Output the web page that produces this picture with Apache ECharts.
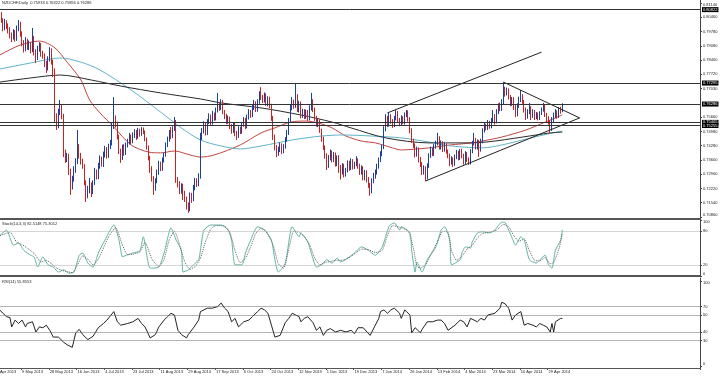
<!DOCTYPE html>
<html>
<head>
<meta charset="utf-8">
<script src="https://cdn.jsdelivr.net/npm/echarts@6/dist/echarts.min.js"></script>
<style>
html,body{margin:0;padding:0;background:#fff}
#chartmain{width:720px;height:376px}
</style>
</head>
<body>
<div id="chartmain"></div>
<script>
var headerText = 'NZDCHF,Daily  0.75933 0.76322 0.75894 0.76286';
var stochText = 'Stoch(14,3,3) 82.5148 75.3012';
var rsiText = 'RSI(14) 55.8553';

// one label every 16 daily bars (Sun-Fri feed)
var dateLabels = ['21 Apr 2013','9 May 2013','28 May 2013','16 Jun 2013','4 Jul 2013','23 Jul 2013',
  '11 Aug 2013','29 Aug 2013','17 Sep 2013','6 Oct 2013','24 Oct 2013','12 Nov 2013','1 Dec 2013',
  '19 Dec 2013','7 Jan 2014','26 Jan 2014','13 Feb 2014','4 Mar 2014','23 Mar 2014','10 Apr 2014','29 Apr 2014'];
var barCount = 408;

var firstOpen = 0.8010;
var closes = [
 0.8025,0.8040,0.8010,0.8055,0.8030,0.7995,0.8020,0.8005,0.7985,0.7960,
 0.7945,0.7975,0.7940,0.7990,0.8015,0.7965,0.7920,0.7895,0.7930,0.7905,
 0.7915,0.7890,0.7945,0.7880,0.7850,0.7895,0.7910,0.7870,0.7860,0.7820,
 0.7800,0.7845,0.7885,0.7830,0.7790,0.7560,0.7525,0.7590,0.7610,0.7570,
 0.7395,0.7360,0.7380,0.7300,0.7230,0.7265,0.7310,0.7350,0.7420,0.7380,
 0.7350,0.7330,0.7250,0.7190,0.7215,0.7240,0.7205,0.7250,0.7300,0.7280,
 0.7330,0.7365,0.7340,0.7385,0.7410,0.7380,0.7425,0.7440,0.7520,0.7560,
 0.7530,0.7470,0.7400,0.7370,0.7420,0.7395,0.7430,0.7445,0.7470,0.7450,
 0.7480,0.7495,0.7470,0.7500,0.7485,0.7510,0.7495,0.7460,0.7420,0.7370,
 0.7320,0.7270,0.7225,0.7260,0.7300,0.7340,0.7320,0.7360,0.7385,0.7430,
 0.7460,0.7490,0.7475,0.7510,0.7530,0.7270,0.7245,0.7210,0.7235,0.7200,
 0.7170,0.7140,0.7125,0.7190,0.7170,0.7225,0.7260,0.7245,0.7280,0.7470,
 0.7500,0.7530,0.7490,0.7545,0.7570,0.7540,0.7580,0.7560,0.7600,0.7625,
 0.7610,0.7640,0.7590,0.7570,0.7545,0.7560,0.7520,0.7500,0.7530,0.7490,
 0.7475,0.7510,0.7495,0.7530,0.7555,0.7520,0.7565,0.7590,0.7575,0.7610,
 0.7630,0.7600,0.7640,0.7675,0.7660,0.7645,0.7670,0.7630,0.7655,0.7620,
 0.7560,0.7470,0.7420,0.7390,0.7410,0.7430,0.7400,0.7425,0.7460,0.7490,
 0.7550,0.7610,0.7640,0.7620,0.7665,0.7600,0.7630,0.7575,0.7595,0.7570,
 0.7590,0.7560,0.7610,0.7645,0.7600,0.7560,0.7530,0.7545,0.7500,0.7460,
 0.7420,0.7380,0.7335,0.7370,0.7395,0.7360,0.7385,0.7340,0.7370,0.7320,
 0.7300,0.7330,0.7290,0.7310,0.7345,0.7320,0.7355,0.7325,0.7340,0.7360,
 0.7330,0.7300,0.7320,0.7275,0.7300,0.7265,0.7240,0.7210,0.7260,0.7285,
 0.7300,0.7330,0.7360,0.7390,0.7420,0.7510,0.7560,0.7530,0.7570,0.7545,
 0.7525,0.7560,0.7585,0.7550,0.7535,0.7560,0.7540,0.7575,0.7590,0.7555,
 0.7500,0.7450,0.7430,0.7385,0.7410,0.7360,0.7340,0.7300,0.7320,0.7275,
 0.7330,0.7380,0.7410,0.7390,0.7425,0.7440,0.7465,0.7420,0.7440,0.7410,
 0.7430,0.7400,0.7380,0.7350,0.7365,0.7340,0.7375,0.7395,0.7370,0.7400,
 0.7380,0.7350,0.7390,0.7360,0.7345,0.7400,0.7440,0.7455,0.7420,0.7445,
 0.7410,0.7450,0.7500,0.7525,0.7510,0.7540,0.7520,0.7550,0.7570,0.7545,
 0.7590,0.7620,0.7605,0.7640,0.7700,0.7680,0.7695,0.7660,0.7630,0.7650,
 0.7610,0.7580,0.7620,0.7650,0.7665,0.7640,0.7600,0.7570,0.7590,0.7610,
 0.7575,0.7595,0.7565,0.7580,0.7560,0.7585,0.7600,0.7615,0.7575,0.7560,
 0.7545,0.7515,0.7555,0.7575,0.7590,0.7570,0.7600,0.75933,0.76286
];
var highs = [
 0.8045,0.8062,0.8052,0.8078,0.8070,0.8041,0.8038,0.8031,0.8016,0.7998,
 0.7972,0.7988,0.7984,0.8006,0.8032,0.8024,0.7978,0.7936,0.7950,0.7942,
 0.7934,0.7926,0.7994,0.7956,0.7892,0.7908,0.7926,0.7922,0.7884,0.7872,
 0.7836,0.7858,0.7902,0.7896,0.7842,0.7800,0.7584,0.7606,0.7648,0.7626,
 0.7582,0.7410,0.7394,0.7390,0.7318,0.7284,0.7330,0.7368,0.7504,0.7436,
 0.7394,0.7366,0.7340,0.7262,0.7236,0.7274,0.7252,0.7262,0.7322,0.7314,
 0.7346,0.7382,0.7376,0.7400,0.7428,0.7422,0.7438,0.7456,0.7538,0.7662,
 0.7574,0.7544,0.7482,0.7414,0.7434,0.7436,0.7444,0.7462,0.7490,0.7482,
 0.7492,0.7508,0.7504,0.7514,0.7510,0.7518,0.7516,0.7502,0.7468,0.7430,
 0.7380,0.7330,0.7282,0.7272,0.7314,0.7356,0.7352,0.7372,0.7394,0.7444,
 0.7472,0.7504,0.7518,0.7522,0.7566,0.7552,0.7278,0.7258,0.7248,0.7246,
 0.7212,0.7184,0.7156,0.7204,0.7202,0.7240,0.7274,0.7272,0.7296,0.7490,
 0.7514,0.7546,0.7538,0.7556,0.7584,0.7578,0.7596,0.7588,0.7612,0.7682,
 0.7638,0.7652,0.7648,0.7600,0.7582,0.7574,0.7568,0.7532,0.7542,0.7538,
 0.7500,0.7522,0.7520,0.7542,0.7566,0.7562,0.7578,0.7604,0.7600,0.7624,
 0.7648,0.7642,0.7652,0.7690,0.7710,0.7672,0.7684,0.7680,0.7666,0.7664,
 0.7630,0.7572,0.7482,0.7432,0.7424,0.7444,0.7440,0.7436,0.7470,0.7504,
 0.7562,0.7624,0.7662,0.7650,0.7730,0.7676,0.7644,0.7640,0.7606,0.7604,
 0.7602,0.7600,0.7622,0.7682,0.7652,0.7612,0.7572,0.7558,0.7554,0.7510,
 0.7472,0.7430,0.7392,0.7384,0.7410,0.7406,0.7398,0.7396,0.7382,0.7384,
 0.7336,0.7344,0.7342,0.7322,0.7358,0.7356,0.7368,0.7364,0.7352,0.7378,
 0.7368,0.7342,0.7334,0.7330,0.7312,0.7310,0.7278,0.7250,0.7272,0.7298,
 0.7314,0.7342,0.7372,0.7402,0.7432,0.7522,0.7580,0.7572,0.7586,0.7580,
 0.7556,0.7572,0.7600,0.7596,0.7562,0.7574,0.7570,0.7588,0.7600,0.7598,
 0.7566,0.7512,0.7462,0.7440,0.7424,0.7420,0.7374,0.7350,0.7334,0.7330,
 0.7344,0.7392,0.7424,0.7420,0.7436,0.7452,0.7490,0.7474,0.7454,0.7450,
 0.7444,0.7440,0.7410,0.7390,0.7378,0.7372,0.7386,0.7408,0.7404,0.7412,
 0.7414,0.7390,0.7402,0.7398,0.7372,0.7412,0.7452,0.7490,0.7466,0.7458,
 0.7456,0.7462,0.7512,0.7540,0.7534,0.7552,0.7548,0.7562,0.7600,0.7580,
 0.7604,0.7632,0.7636,0.7652,0.7734,0.7712,0.7708,0.7704,0.7672,0.7662,
 0.7662,0.7624,0.7632,0.7664,0.7696,0.7676,0.7648,0.7612,0.7604,0.7634,
 0.7618,0.7604,0.7600,0.7590,0.7588,0.7594,0.7612,0.7634,0.7624,0.7586,
 0.7570,0.7552,0.7566,0.7588,0.7604,0.7598,0.7614,0.7616,0.76322
];
var lows = [
 0.7992,0.8012,0.7996,0.8001,0.8019,0.7978,0.7983,0.7990,0.7968,0.7944,
 0.7926,0.7938,0.7928,0.7932,0.7978,0.7952,0.7906,0.7876,0.7882,0.7890,
 0.7888,0.7872,0.7878,0.7862,0.7826,0.7840,0.7880,0.7856,0.7846,0.7806,
 0.7778,0.7790,0.7832,0.7818,0.7758,0.7540,0.7504,0.7512,0.7576,0.7556,
 0.7374,0.7346,0.7350,0.7288,0.7192,0.7218,0.7256,0.7298,0.7340,0.7366,
 0.7338,0.7318,0.7238,0.7158,0.7176,0.7200,0.7182,0.7196,0.7240,0.7266,
 0.7268,0.7318,0.7328,0.7326,0.7372,0.7366,0.7370,0.7412,0.7430,0.7508,
 0.7516,0.7458,0.7388,0.7346,0.7360,0.7380,0.7384,0.7420,0.7434,0.7436,
 0.7440,0.7466,0.7456,0.7462,0.7472,0.7476,0.7484,0.7450,0.7410,0.7358,
 0.7298,0.7256,0.7192,0.7212,0.7248,0.7288,0.7306,0.7308,0.7348,0.7376,
 0.7422,0.7448,0.7460,0.7466,0.7500,0.7250,0.7228,0.7196,0.7198,0.7168,
 0.7158,0.7122,0.7106,0.7114,0.7154,0.7162,0.7214,0.7230,0.7234,0.7270,
 0.7456,0.7488,0.7478,0.7480,0.7532,0.7528,0.7530,0.7548,0.7550,0.7588,
 0.7596,0.7600,0.7580,0.7556,0.7532,0.7534,0.7508,0.7486,0.7490,0.7474,
 0.7456,0.7466,0.7484,0.7486,0.7520,0.7508,0.7512,0.7554,0.7562,0.7566,
 0.7600,0.7590,0.7592,0.7630,0.7648,0.7634,0.7636,0.7620,0.7618,0.7608,
 0.7548,0.7456,0.7406,0.7374,0.7380,0.7398,0.7388,0.7392,0.7414,0.7448,
 0.7480,0.7540,0.7598,0.7606,0.7610,0.7590,0.7588,0.7560,0.7562,0.7556,
 0.7558,0.7548,0.7550,0.7598,0.7590,0.7548,0.7520,0.7518,0.7490,0.7448,
 0.7408,0.7366,0.7312,0.7322,0.7358,0.7348,0.7350,0.7328,0.7330,0.7298,
 0.7266,0.7290,0.7276,0.7280,0.7300,0.7308,0.7312,0.7314,0.7316,0.7330,
 0.7318,0.7288,0.7290,0.7262,0.7262,0.7252,0.7226,0.7188,0.7200,0.7248,
 0.7270,0.7290,0.7318,0.7350,0.7378,0.7412,0.7498,0.7518,0.7520,0.7534,
 0.7514,0.7518,0.7550,0.7540,0.7522,0.7526,0.7532,0.7530,0.7566,0.7544,
 0.7488,0.7442,0.7418,0.7372,0.7376,0.7348,0.7326,0.7288,0.7290,0.7259,
 0.7266,0.7322,0.7370,0.7378,0.7380,0.7414,0.7430,0.7410,0.7410,0.7398,
 0.7400,0.7390,0.7368,0.7330,0.7338,0.7326,0.7332,0.7364,0.7358,0.7360,
 0.7368,0.7338,0.7340,0.7350,0.7336,0.7338,0.7392,0.7430,0.7410,0.7410,
 0.7374,0.7400,0.7440,0.7492,0.7502,0.7504,0.7510,0.7512,0.7540,0.7530,
 0.7536,0.7580,0.7594,0.7596,0.7628,0.7664,0.7670,0.7650,0.7618,0.7620,
 0.7600,0.7566,0.7570,0.7610,0.7638,0.7630,0.7588,0.7552,0.7558,0.7580,
 0.7552,0.7562,0.7552,0.7556,0.7550,0.7552,0.7576,0.7592,0.7566,0.7540,
 0.7530,0.7490,0.7500,0.7542,0.7560,0.7558,0.7562,0.7582,0.75894
];

// moving averages, vertices as [bar, price]
var maRed = [[0,0.7850],[3,0.7864],[15,0.7912],[26,0.7931],[35,0.7898],[42,0.7830],[50,0.7744],[55,0.7648],
  [61,0.7586],[69,0.7518],[79,0.7432],[89,0.7398],[96,0.7394],[104,0.7403],[113,0.7384],[119,0.7374],[127,0.7384],
  [142,0.7432],[154,0.7490],[162,0.7514],[171,0.7542],[180,0.7547],[187,0.7538],[195,0.7514],[203,0.7475],
  [212,0.7451],[220,0.7442],[230,0.7418],[235,0.7408],[244,0.7413],[251,0.7418],[263,0.7432],[276,0.7442],
  [282,0.7451],[293,0.7470],[307,0.7504],[317,0.7538],[328,0.7576]];
var maTeal = [[0,0.7795],[3,0.7797],[21,0.7826],[38,0.7850],[50,0.7830],[61,0.7792],[79,0.7696],[96,0.7590],
  [108,0.7514],[119,0.7456],[131,0.7427],[142,0.7413],[154,0.7427],[172,0.7456],[189,0.7475],[201,0.7480],
  [218,0.7475],[235,0.7466],[251,0.7446],[264,0.7427],[282,0.7418],[293,0.7432],[305,0.7456],[317,0.7480],[328,0.7499]];
var maBlack = [[0,0.7730],[3,0.7734],[21,0.7754],[38,0.7768],[56,0.7744],[73,0.7715],[96,0.7682],[119,0.7653],
  [131,0.7634],[154,0.7610],[177,0.7576],[195,0.7542],[206,0.7514],[226,0.7466],[251,0.7442],[270,0.7442],
  [284,0.7446],[305,0.7470],[321,0.7490],[328,0.7494]];

var levelLines = [0.80822, 0.77295, 0.76286, 0.75405, 0.75255];
var channelTop = [[227,0.7586],[316,0.7878]];
var triangleLow = [[249,0.7259],[338,0.7562]];
var triangleTop = [[294,0.7734],[338,0.7562]];

var priceTicks = [0.7086,0.71545,0.7223,0.72916,0.73601,0.74286,0.74972,0.75657,0.77028,0.77713,0.78398,0.79084,0.79769,0.80454,0.8114];
var priceTickLabels = ['0.70860','0.71540','0.72220','0.72900','0.73600','0.74280','0.74980','0.75660','0.77030','0.77720','0.78400','0.79080','0.79780','0.80460','0.81140'];

var stochMain = [[0,70],[3,72],[7,82],[11,55],[14,59],[17,46],[21,37],[23,34],[25,16],[28,34],[31,20],[34,16],[37,7],
  [40,11],[43,5],[46,7],[49,37],[51,41],[54,23],[57,16],[60,41],[63,59],[69,91],[72,64],[74,34],[76,37],[80,41],[84,45],
  [86,70],[90,14],[95,16],[98,41],[102,86],[105,64],[108,46],[109,7],[112,11],[115,20],[118,29],[119,46],[121,82],
  [125,91],[131,91],[135,82],[137,64],[139,20],[143,20],[145,41],[148,64],[152,88],[156,82],[160,64],[162,29],[164,7],
  [168,23],[172,88],[176,70],[177,77],[181,61],[183,41],[186,16],[189,20],[192,29],[195,23],[198,32],[200,25],[205,34],
  [208,41],[212,52],[216,46],[220,37],[224,52],[228,89],[231,95],[234,82],[235,88],[240,77],[241,46],[243,7],[244,25],
  [247,7],[250,29],[255,52],[258,82],[260,88],[263,64],[264,20],[269,29],[270,41],[272,52],[275,50],[276,61],[279,77],
  [282,79],[286,77],[289,82],[293,96],[295,95],[297,82],[299,68],[301,55],[304,70],[306,64],[309,29],[313,23],[315,29],
  [318,37],[320,20],[322,14],[324,46],[327,64],[328,82.51]];
var stochSignal = [[0,68],[5,74],[9,78],[13,60],[16,56],[19,50],[23,40],[27,25],[30,28],[33,22],[36,14],[39,10],[42,8],
  [45,6],[48,20],[51,36],[54,30],[57,20],[60,30],[63,50],[66,70],[70,86],[74,55],[77,38],[80,39],[84,43],[87,60],[91,30],
  [95,17],[98,30],[101,65],[104,80],[107,55],[110,25],[113,12],[116,17],[119,32],[122,62],[125,84],[128,90],[133,89],
  [136,78],[139,45],[142,24],[145,32],[148,52],[151,76],[154,85],[157,80],[161,55],[164,22],[167,14],[170,48],[173,80],
  [176,78],[179,70],[182,56],[185,32],[188,20],[191,24],[194,26],[197,28],[200,28],[203,30],[206,35],[209,42],[212,48],
  [216,47],[220,42],[224,46],[227,72],[230,90],[233,88],[236,85],[239,80],[242,50],[244,18],[246,14],[249,20],[252,38],
  [256,62],[259,80],[262,78],[264,45],[267,28],[270,35],[273,48],[276,55],[279,68],[282,76],[286,78],[290,82],[294,92],
  [297,88],[300,72],[303,62],[306,66],[309,45],[312,28],[315,27],[318,33],[321,22],[323,24],[326,48],[328,75.3]];
var stochLevels = [20, 80];
var stochTicks = [0, 20, 80, 100];

var rsiLine = [[0,64],[3,66],[5,62],[7,58],[9,57],[10,46],[12,54],[14,50],[16,54],[18,46],[19,50],[22,52],[24,40],[26,46],
  [28,45],[30,48],[32,42],[34,34],[37,34],[40,28],[42,25],[45,22],[47,39],[49,43],[51,37],[54,31],[57,35],[60,45],[61,47],
  [63,50],[65,54],[67,59],[69,64],[71,52],[73,48],[77,50],[80,52],[83,56],[85,50],[87,46],[90,33],[93,37],[95,46],[98,54],
  [100,58],[102,62],[104,60],[106,42],[108,37],[111,33],[112,37],[115,45],[118,54],[119,64],[123,68],[126,68],[129,70],
  [131,74],[133,68],[135,64],[137,52],[139,56],[141,46],[144,52],[147,54],[149,58],[152,64],[154,68],[156,66],[158,62],
  [160,48],[162,34],[165,36],[168,51],[170,56],[172,62],[174,60],[176,58],[177,52],[179,56],[181,58],[184,51],[186,42],
  [188,46],[190,36],[192,42],[194,44],[197,40],[200,42],[203,40],[206,42],[208,38],[210,45],[211,47],[213,45],[217,36],
  [220,48],[222,56],[223,64],[225,66],[227,62],[229,66],[231,68],[234,62],[235,56],[237,66],[240,60],[241,39],[243,45],
  [246,39],[247,43],[250,52],[253,52],[256,54],[258,54],[260,50],[262,42],[263,40],[266,48],[267,50],[269,54],[271,52],
  [273,46],[275,56],[277,54],[279,52],[281,56],[283,54],[285,60],[286,60],[289,62],[292,68],[293,75],[295,73],[297,68],
  [299,54],[301,60],[304,64],[306,48],[308,50],[311,48],[313,46],[315,50],[317,48],[319,46],[321,40],[322,50],[323,40],
  [324,52],[327,56],[328,55.86]];
var rsiLevels = [30, 40, 60, 70];
var rsiTicks = [0, 30, 40, 60, 70, 100];

var cats = [];
for (var i = 0; i < barCount; i++) cats.push(String(i));

var candles = [];
for (var i = 0; i < closes.length; i++) {
    var o = i === 0 ? firstOpen : closes[i - 1];
    var c = closes[i];
    candles.push([o, c, Math.min(lows[i], o, c), Math.max(highs[i], o, c)]);
}

var gridPos = {left: -6.5, width: 706.5};

function catAxis(idx, showLabels) {
    var every16 = function (index) { return index % 16 === 0 && index <= 320; };
    return {
        type: 'category', gridIndex: idx, data: cats, boundaryGap: true,
        axisLine: {show: true, onZero: false, lineStyle: {color: '#555', width: showLabels ? 1 : 2}},
        axisTick: {show: showLabels, interval: every16, length: 2, lineStyle: {color: '#555'}},
        axisLabel: {
            show: showLabels, interval: every16, align: 'left', margin: 2,
            fontSize: 4, color: '#222', fontFamily: 'Liberation Sans',
            formatter: function (v, index) { return dateLabels[index / 16] || ''; }
        },
        splitLine: {show: false}
    };
}

function valAxis(idx, min, max, ticks, fmt) {
    return {
        type: 'value', gridIndex: idx, position: 'right', min: min, max: max, scale: true,
        axisLine: {show: true, lineStyle: {color: '#444'}},
        axisTick: {show: true, length: 2, customValues: ticks, lineStyle: {color: '#444'}},
        axisLabel: {
            customValues: ticks, margin: 3, fontSize: 4, color: '#222', fontFamily: 'Liberation Sans',
            verticalAlignMinLabel: 'bottom', verticalAlignMaxLabel: 'top',
            formatter: fmt
        },
        splitLine: {show: false}
    };
}

function levelMark(levels, color) {
    return {
        symbol: ['none', 'none'], silent: true, animation: false, precision: 2,
        lineStyle: {color: color, width: 1, type: 'dotted'},
        label: {show: false},
        data: levels.map(function (v) { return {yAxis: v}; })
    };
}

function trend(data) {
    return {
        type: 'line', xAxisIndex: 0, yAxisIndex: 0, data: data, showSymbol: false, silent: true,
        lineStyle: {color: '#222', width: 1}, z: 4
    };
}

var option = {
    animation: false,
    backgroundColor: '#fff',
    grid: [
        {left: gridPos.left, width: gridPos.width, top: 0, height: 219, outerBoundsMode: 'none'},
        {left: gridPos.left, width: gridPos.width, top: 220, height: 56, outerBoundsMode: 'none'},
        {left: gridPos.left, width: gridPos.width, top: 278, height: 90, outerBoundsMode: 'none'}
    ],
    xAxis: [catAxis(0, false), catAxis(1, false), catAxis(2, true)],
    yAxis: [
        valAxis(0, 0.70764, 0.81284, priceTicks, function (v) {
            var k = priceTicks.indexOf(v);
            return k >= 0 ? priceTickLabels[k] : '';
        }),
        valAxis(1, 0, 100, stochTicks, function (v) { return String(v); }),
        valAxis(2, -2.35, 103.5, rsiTicks, function (v) { return String(v); })
    ],
    graphic: [
        {type: 'text', left: 2, top: 1, style: {text: headerText, fontSize: 4, fill: '#222', fontFamily: 'Liberation Sans'}},
        {type: 'text', left: 2, top: 222, style: {text: stochText, fontSize: 4, fill: '#222', fontFamily: 'Liberation Sans'}},
        {type: 'text', left: 2, top: 280, style: {text: rsiText, fontSize: 4, fill: '#222', fontFamily: 'Liberation Sans'}}
    ],
    series: [
        {
            name: 'NZDCHF', type: 'candlestick', xAxisIndex: 0, yAxisIndex: 0, data: candles,
            barWidth: 1.2,
            itemStyle: {color: '#5577cc', color0: '#dd5a5a', borderColor: '#1f3f9f', borderColor0: '#c62222', borderWidth: 1},
            markLine: {
                symbol: ['none', 'none'], silent: true, animation: false, precision: 5,
                lineStyle: {color: '#333', width: 1, type: 'solid'},
                label: {
                    position: 'end', distance: 2, fontSize: 4, fontFamily: 'Liberation Sans',
                    color: '#fff', backgroundColor: '#000', padding: [1, 1, 0, 1],
                    formatter: function (p) { return p.value.toFixed(5); }
                },
                data: levelLines.map(function (v) { return {yAxis: v}; })
            },
            z: 3
        },
        {type: 'line', xAxisIndex: 0, yAxisIndex: 0, data: maRed, showSymbol: false, smooth: 0.3, lineStyle: {color: '#c0453f', width: 1}, z: 2},
        {type: 'line', xAxisIndex: 0, yAxisIndex: 0, data: maTeal, showSymbol: false, smooth: 0.3, lineStyle: {color: '#5fb2c8', width: 1}, z: 2},
        {type: 'line', xAxisIndex: 0, yAxisIndex: 0, data: maBlack, showSymbol: false, smooth: 0.3, lineStyle: {color: '#2a2a2a', width: 1}, z: 2},
        trend(channelTop),
        trend(triangleLow),
        trend(triangleTop),
        {
            type: 'line', xAxisIndex: 1, yAxisIndex: 1, data: stochMain, showSymbol: false, smooth: 0.2,
            lineStyle: {color: '#5fb3a5', width: 1}, markLine: levelMark(stochLevels, '#aaa')
        },
        {
            type: 'line', xAxisIndex: 1, yAxisIndex: 1, data: stochSignal, showSymbol: false, smooth: 0.2,
            lineStyle: {color: '#666', width: 1, type: 'dotted'}
        },
        {
            type: 'line', xAxisIndex: 2, yAxisIndex: 2, data: rsiLine, showSymbol: false,
            lineStyle: {color: '#222', width: 1}, markLine: levelMark(rsiLevels, '#666')
        }
    ]
};

var myChart = echarts.init(document.getElementById('chartmain'));
myChart.setOption(option);
</script>
</body>
</html>
